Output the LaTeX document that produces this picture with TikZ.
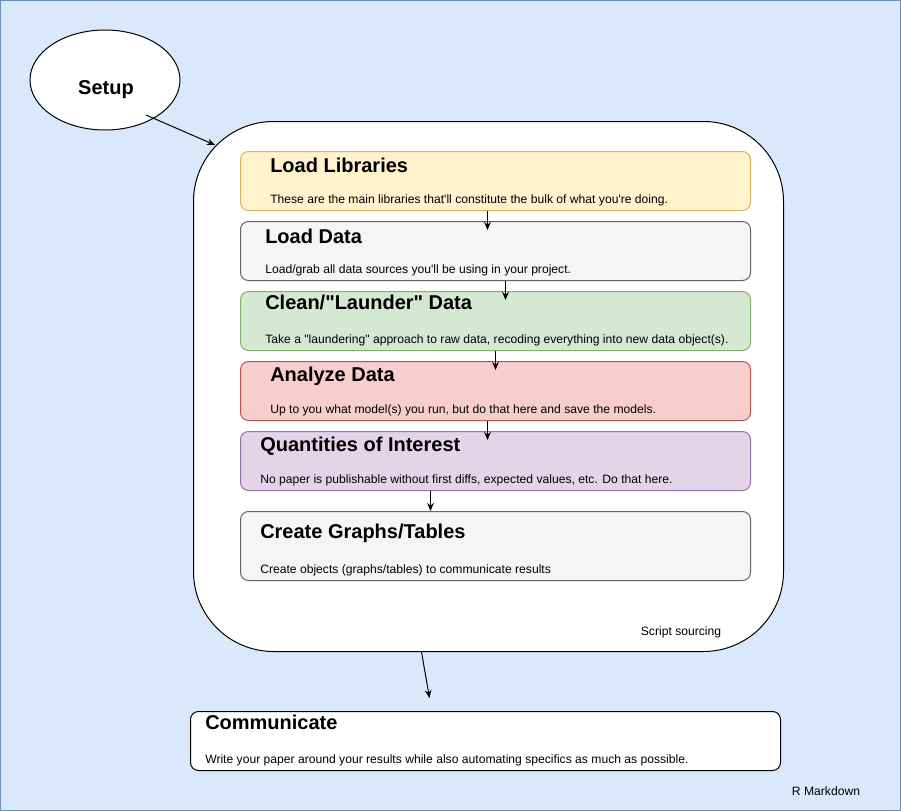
\documentclass[tikz,border=0pt]{standalone}
\usepackage{fontspec}
\setmainfont{Liberation Sans}[Ligatures=TeXOff]
\usetikzlibrary{positioning,shapes.geometric,arrows.meta}

\definecolor{bgfill}{HTML}{DAE8FC}
\definecolor{bgline}{HTML}{6C8EBF}
\definecolor{yelfill}{HTML}{FFF2CC}
\definecolor{yelline}{HTML}{D6B656}
\definecolor{greyfill}{HTML}{F5F5F5}
\definecolor{greyline}{HTML}{666666}
\definecolor{grnfill}{HTML}{D5E8D4}
\definecolor{grnline}{HTML}{82B366}
\definecolor{redfill}{HTML}{F8CECC}
\definecolor{redline}{HTML}{B85450}
\definecolor{purfill}{HTML}{E1D5E7}
\definecolor{purline}{HTML}{9673A6}

\begin{document}
\begin{tikzpicture}[x=0.75pt,y=-0.75pt,
    stagebox/.style={draw,rounded corners=6pt,line width=0.75pt,inner sep=0pt,
      minimum width=382.5pt,minimum height=44.25pt,anchor=north west},
    headtext/.style={anchor=west,inner sep=0pt,font=\bfseries\fontsize{15}{18}\selectfont},
    desctext/.style={anchor=west,inner sep=0pt,font=\fontsize{9.1}{11}\selectfont},
    flow/.style={-{Stealth[length=6pt,width=5pt]},line width=0.75pt}]
    \useasboundingbox (0,0) rectangle (901,811);
    \draw[fill=bgfill,draw=bgline,line width=0.75pt] (0.5,0.5) rectangle (900.5,810.5);

    % setup and the sourced script
    \node[ellipse,draw,fill=white,line width=0.75pt,minimum width=112.5pt,minimum height=75pt] (setup) at (105,80) {};
    \node[headtext,anchor=center] (setuplbl) at ([shift={(1,10)}]setup.center) {Setup};
    \node[draw,fill=white,rounded corners=60pt,line width=0.75pt,inner sep=0pt,
          minimum width=442.5pt,minimum height=397.5pt,anchor=north west] (script) at (193,121) {};
    \node[desctext,anchor=center] (scriptlbl) at (681,632) {Script sourcing};

    % steps inside the script
    \node[stagebox,fill=yelfill,draw=yelline]   (lib)     at (240,151) {};
    \node[stagebox,fill=greyfill,draw=greyline] (data)    at (240,221) {};
    \node[stagebox,fill=grnfill,draw=grnline]   (clean)   at (240,291) {};
    \node[stagebox,fill=redfill,draw=redline]   (analyze) at (240,361) {};
    \node[stagebox,fill=purfill,draw=purline]   (qoi)     at (240,431) {};
    \node[stagebox,fill=greyfill,draw=greyline,minimum height=51.75pt] (graphs) at (240,511) {};

    \node[headtext] (libhead) at ([shift={(30,14)}]lib.north west) {Load Libraries};
    \node[desctext] (libdesc) at ([shift={(30,-11)}]lib.south west)
        {These are the main libraries that'll constitute the bulk of what you're doing.};
    \node[headtext] (datahead) at ([shift={(25,15)}]data.north west) {Load Data};
    \node[desctext] (datadesc) at ([shift={(25,-11)}]data.south west)
        {Load/grab all data sources you'll be using in your project.};
    \node[headtext] (cleanhead) at ([shift={(25,11)}]clean.north west) {Clean/"Launder" Data};
    \node[desctext] (cleandesc) at ([shift={(25,-11)}]clean.south west)
        {Take a "laundering" approach to raw data, recoding everything into new data object(s).};
    \node[headtext] (analyzehead) at ([shift={(30,15)}]analyze.north west) {Analyze Data};
    \node[desctext] (analyzedesc) at ([shift={(30,-11)}]analyze.south west)
        {Up to you what model(s) you run, but do that here and save the models.};
    \node[headtext] (qoihead) at ([shift={(20,15)}]qoi.north west) {Quantities of Interest};
    \node[desctext] (qoidesc) at ([shift={(20,-11)}]qoi.south west)
        {No paper is publishable without first diffs, expected values, etc. Do that here.};
    \node[headtext] (graphshead) at ([shift={(20,22)}]graphs.north west) {Create Graphs/Tables};
    \node[desctext] (graphsdesc) at ([shift={(20,-11)}]graphs.south west)
        {Create objects (graphs/tables) to communicate results};

    % final write-up
    \node[stagebox,fill=white,draw=black,minimum width=442.5pt] (comm) at (190,711) {};
    \node[headtext] (commhead) at ([shift={(15,11)}]comm.north west) {Communicate};
    \node[desctext] (commdesc) at ([shift={(15,-11)}]comm.south west)
        {Write your paper around your results while also automating specifics as much as possible.};
    \node[desctext,anchor=center] (rmdlbl) at (826,791) {R Markdown};

    % connectors
    \draw[flow] ([shift={(41,35)}]setup.center) -- ([shift={(22,24)}]script.north west);
    \draw[flow] ([xshift=-6pt]lib.south) -- ([shift={(-8,9)}]data.north);
    \draw[flow] ([xshift=7.5pt]data.south) -- ([shift={(10,9)}]clean.north);
    \draw[flow] (clean.south) -- ([shift={(0,9)}]analyze.north);
    \draw[flow] ([xshift=-6pt]analyze.south) -- ([shift={(-8,9)}]qoi.north);
    \draw[flow] ([xshift=-48.75pt]qoi.south) -- ([shift={(-65,0)}]graphs.north);
    \draw[flow] ([xshift=-50.25pt]script.south) -- ([shift={(-56,-13)}]comm.north);
\end{tikzpicture}
\end{document}
